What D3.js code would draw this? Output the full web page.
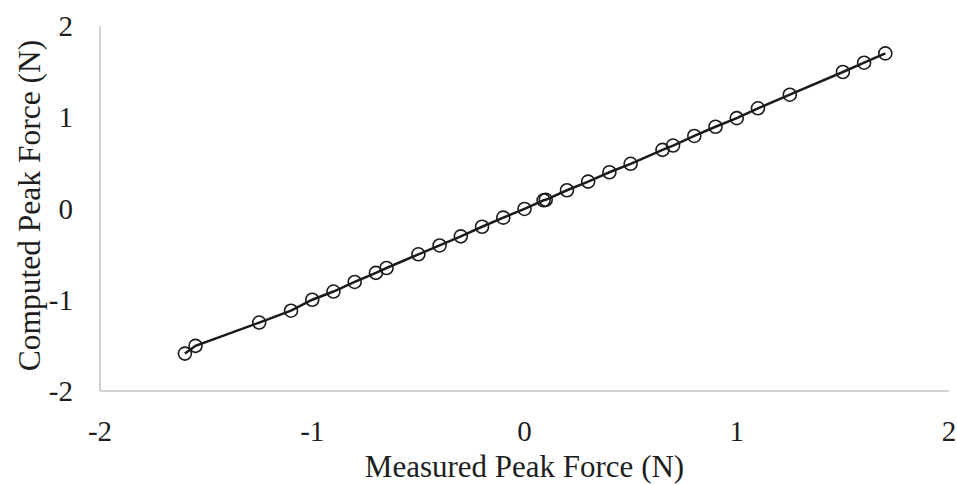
<!DOCTYPE html>
<html><head><meta charset="utf-8">
<script src="https://cdn.jsdelivr.net/npm/d3@7"></script>
<style>html,body{margin:0;padding:0;background:#fff;}svg{display:block;}</style>
</head><body>
<svg id="c" width="957" height="485"></svg>
<script>
const measured = [-1.6, -1.55, -1.25, -1.1, -1.0, -0.9, -0.8, -0.7, -0.65, -0.5, -0.4, -0.3, -0.2, -0.1, 0, 0.09, 0.1, 0.2, 0.3, 0.4, 0.5, 0.65, 0.7, 0.8, 0.9, 1.0, 1.1, 1.25, 1.5, 1.6, 1.7];
const computed = [-1.59, -1.505, -1.25, -1.12, -1.0, -0.91, -0.805, -0.705, -0.652, -0.502, -0.405, -0.305, -0.2, -0.1, -0.005, 0.09, 0.095, 0.2, 0.295, 0.397, 0.49, 0.643, 0.69, 0.795, 0.896, 0.99, 1.098, 1.247, 1.496, 1.598, 1.7];
const xTicks = [-2, -1, 0, 1, 2];
const yTicks = [-2, -1, 0, 1, 2];
const xTitle = "Measured Peak Force (N)";
const yTitle = "Computed Peak Force (N)";

const svg = d3.select("#c");
const x = d3.scaleLinear().domain([-2, 2]).range([100, 949]);
const y = d3.scaleLinear().domain([-2, 2]).range([391, 26]);
const font = "'Liberation Serif','Times New Roman',serif";

// axes lines
svg.append("line").attr("x1", x(-2)).attr("x2", x(2)).attr("y1", y(-2)).attr("y2", y(-2))
  .attr("stroke", "#c4c4c4").attr("stroke-width", 1.5);
svg.append("line").attr("x1", x(-2)).attr("x2", x(-2)).attr("y1", y(-2)).attr("y2", y(2))
  .attr("stroke", "#c4c4c4").attr("stroke-width", 1.5);

// tick labels
svg.selectAll(".xt").data(xTicks).enter().append("text")
  .attr("x", d => x(d)).attr("y", 441).attr("text-anchor", "middle")
  .attr("font-family", font).attr("font-size", 29).attr("fill", "#1e1e1e")
  .text(d => d);
svg.selectAll(".yt").data(yTicks).enter().append("text")
  .attr("x", 73).attr("y", d => y(d) + 10).attr("text-anchor", "end")
  .attr("font-family", font).attr("font-size", 29).attr("fill", "#1e1e1e")
  .text(d => d);

// titles
svg.append("text").attr("x", x(0)).attr("y", 477).attr("text-anchor", "middle")
  .attr("font-family", font).attr("font-size", 31).attr("fill", "#1e1e1e").text(xTitle);
svg.append("text").attr("transform", `translate(40,${y(0) - 3}) rotate(-90)`).attr("text-anchor", "middle")
  .attr("font-family", font).attr("font-size", 31.5).attr("fill", "#1e1e1e").text(yTitle);

const pts = measured.map((m, i) => [m, computed[i]]);
svg.append("path").datum(pts)
  .attr("d", d3.line().x(d => x(d[0])).y(d => y(d[1])))
  .attr("fill", "none").attr("stroke", "#1a1a1a").attr("stroke-width", 2.5);
svg.selectAll(".pt").data(pts).enter().append("circle")
  .attr("cx", d => x(d[0])).attr("cy", d => y(d[1])).attr("r", 6.5)
  .attr("fill", "none").attr("stroke", "#1a1a1a").attr("stroke-width", 1.6);
</script>
</body></html>
